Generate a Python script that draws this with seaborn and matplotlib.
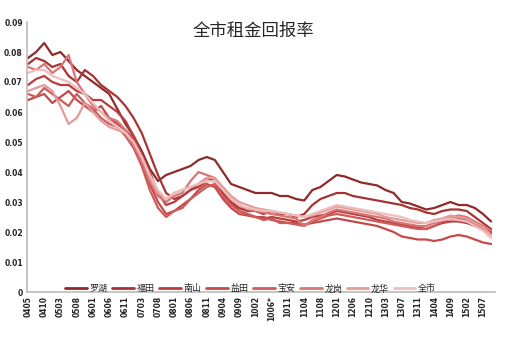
import numpy as np
import pandas as pd
import matplotlib
matplotlib.use("Agg")
import matplotlib.pyplot as plt
import seaborn as sns

districts = ["罗湖", "福田", "南山", "盐田", "宝安", "龙岗", "龙华", "全市"]
colors = ["#8E2A2A", "#A83333", "#B93D3D", "#C54949", "#CF5A5A", "#DB7575", "#E59A9A", "#EEBDBD"]

tick_labels = ["0405", "0410", "0503", "0508", "0601", "0606", "0611", "0703", "0708",
               "0801", "0806", "0811", "0904", "0909", "1002", "1006*", "1011", "1104",
               "1108", "1201", "1206", "1210", "1303", "1307", "1311", "1404", "1409",
               "1502", "1507"]

# sample positions (category index), every 2.5 periods
x_pos = [k * 2.5 for k in range(58)]

# rental yields in per-mille (divide by 1000)
luohu = [78, 80, 83, 79, 80, 77, 74, 72, 70, 68, 66, 61, 56, 52, 47, 41, 37, 39, 40, 41,
         42, 44, 45, 44, 40, 36, 35, 34, 33, 33, 33, 32, 32, 31, 30.5, 34, 35, 37, 39, 38.5,
         37.5, 36.5, 36, 35.5, 34, 33, 30, 29.5, 28.5, 27.5, 28, 29, 30, 29, 29, 28, 26, 23.5]
futian = [76, 78, 77, 75, 76, 72, 70, 74, 72, 69, 67, 65, 62, 58, 53, 46, 39, 33, 31, 32,
          34, 36, 38, 37, 33, 30, 28, 27, 27, 26, 27, 26, 26, 25, 26, 29, 31, 32, 33, 33,
          32, 31.5, 31, 30.5, 30, 29.5, 29, 28, 27.5, 26.5, 26, 27, 27.5, 27.5, 27, 25, 23, 21]
nanshan = [69, 71, 72, 70, 69, 69, 67, 66, 64, 64, 62, 60, 57, 52, 46, 40, 33, 29, 30, 32,
           34, 35, 37, 37, 34, 30, 27, 26, 25, 24.5, 25, 24.5, 24, 23.5, 24, 25, 25.5, 26, 27, 26.5,
           26, 25.5, 25, 24, 23.5, 23, 22.5, 22, 21.5, 21, 22, 23, 23.5, 23.5, 23, 22, 21, 20]
yantian = [64, 65, 66, 63, 65, 67, 64, 62, 60, 62, 58, 56, 54, 51, 44, 36, 30, 26, 27, 29,
           31, 34, 36, 35, 31, 28, 26, 25.5, 25, 25, 24, 23.5, 23, 23, 22.5, 23, 23.5, 24, 24.5, 24,
           23.5, 23, 22.5, 22, 21, 20, 18.5, 18, 17.5, 17.5, 17, 17.5, 18.5, 19, 18.5, 17.5, 16.5, 16]
baoan = [66, 65, 68, 66, 64, 62, 66, 63, 61, 58, 56, 55, 52, 48, 42, 34, 28, 25, 27, 28,
         31, 33, 35, 36, 32, 29, 27, 26, 25, 24, 24.5, 23, 23, 22.5, 22, 23.5, 24.5, 25.5, 26, 25.5,
         25, 24.5, 24, 23.5, 23, 22.5, 22, 21.5, 21, 21, 22, 23.5, 24.5, 24.5, 24, 22.5, 21, 19.5]
longgang = [75, 74, 76, 73, 75, 79, 70, 66, 62, 60, 58, 57, 54, 49, 44, 37, 32, 30, 32, 33,
            37, 40, 39, 38, 34, 31, 29, 27.5, 27, 26.5, 26, 25.5, 25, 24.5, 22, 24, 25, 26.5, 27.5, 27,
            26.5, 26, 25.5, 25, 24.5, 23.5, 23, 22.5, 22, 22, 23, 24, 25, 25.5, 25, 23.5, 22, 20.5]
longhua = [67, 68, 69, 67, 62, 56, 58, 63, 60, 57, 55, 54, 53, 50, 45, 38, 33, 31, 33, 34,
           35, 36, 38, 38, 35, 32, 30, 29, 28, 27.5, 27, 26.5, 26, 25.5, 25, 25.5, 26.5, 27.5, 28.5, 28,
           27.5, 27, 26.5, 26, 25, 24.5, 24, 23.5, 23, 23, 24, 24.5, 25.5, 25, 24.5, 23, 21.5, 19]
quanshi = [73, 74, 74, 72, 71, 70, 68, 66, 63, 60, 57, 55, 53, 50, 45, 39, 34, 31, 33, 34,
           35, 36, 37, 37, 34, 31, 29, 28, 27.5, 27, 27, 26.5, 26, 25.5, 25, 26, 27, 28, 29, 28.5,
           28, 27.5, 27, 26.5, 26, 25.5, 25, 24, 23.5, 23, 23.5, 24, 24.5, 24, 23.5, 22, 20.5, 18]

series = [luohu, futian, nanshan, yantian, baoan, longgang, longhua, quanshi]

frames = []
for name, vals in zip(districts, series):
    frames.append(pd.DataFrame({"x": x_pos, "y": np.array(vals) / 1000.0, "district": name}))
df = pd.concat(frames, ignore_index=True)

sns.set_style("white")
plt.rcParams["font.family"] = ["Noto Sans CJK SC", "DejaVu Sans"]

fig = plt.figure(figsize=(5.05, 3.37), dpi=100)
ax = fig.add_axes([27 / 505, 45 / 337, (495 - 27) / 505, (292 - 22) / 337])

sns.lineplot(data=df, x="x", y="y", hue="district", hue_order=districts,
             palette=colors, linewidth=1.6, ax=ax, legend=True)

ax.set_xlim(-0.3, 143.7)
ax.set_ylim(0, 0.09)
ax.set_yticks([0, 0.01, 0.02, 0.03, 0.04, 0.05, 0.06, 0.07, 0.08, 0.09])
ax.set_yticklabels(["0", "0.01", "0.02", "0.03", "0.04", "0.05", "0.06", "0.07", "0.08", "0.09"],
                   fontsize=5.5, fontweight="bold", family="DejaVu Sans")
ax.set_xticks([i * 5 for i in range(len(tick_labels))])
ax.set_xticklabels(tick_labels, rotation=90, fontsize=5.5, fontweight="bold", family="DejaVu Sans")
ax.tick_params(axis="both", length=0, pad=3)
ax.set_xlabel("")
ax.set_ylabel("")
for s in ["top", "right"]:
    ax.spines[s].set_visible(False)
for s in ["left", "bottom"]:
    ax.spines[s].set_color("#BBBBBB")
    ax.spines[s].set_linewidth(1.2)

handles, labels = ax.get_legend_handles_labels()
leg = ax.legend(handles, labels, loc="center", bbox_to_anchor=(0.478, 0.012), ncol=8,
                frameon=False, fontsize=6.5, handlelength=2.4, handletextpad=0.3,
                columnspacing=0.5)
for h in leg.get_lines():
    h.set_linewidth(2.0)

fig.text(253 / 505, 1 - 31 / 337, "全市租金回报率", ha="center", va="center", fontsize=12.5)

fig.savefig("out.png", dpi=100)
